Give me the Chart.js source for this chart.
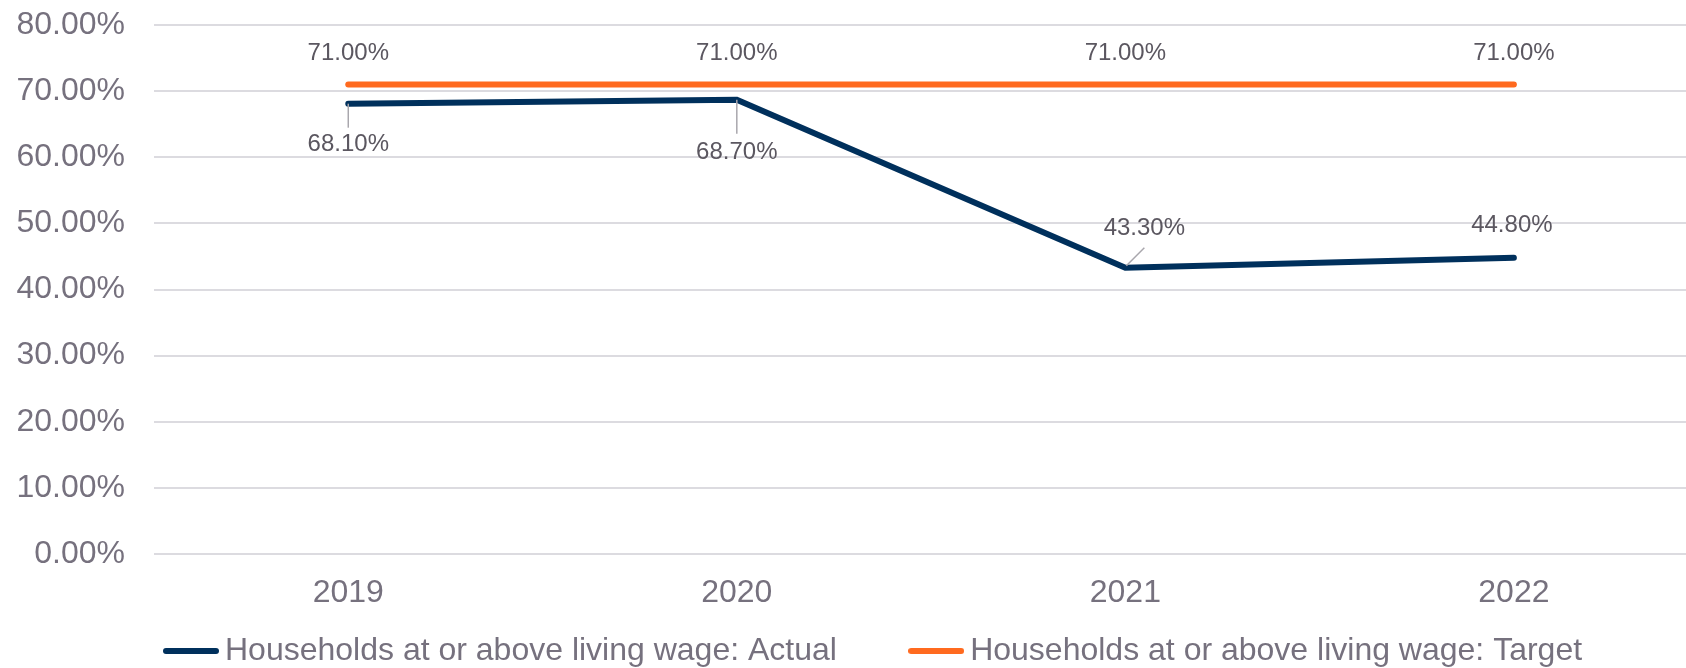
<!DOCTYPE html>
<html>
<head>
<meta charset="utf-8">
<title>Households at or above living wage</title>
<script src="https://cdn.jsdelivr.net/npm/chart.js@4.4.1/dist/chart.umd.min.js"></script>
<style>
  html, body { margin: 0; padding: 0; background: #ffffff; }
  #wrap { width: 1686px; height: 668px; position: relative; }
</style>
</head>
<body>
<div id="wrap"><canvas id="livingWageChart"></canvas></div>
<script>
// --- data ---
const years = [2019, 2020, 2021, 2022];
const actualValues = [68.1, 68.7, 43.3, 44.8];
const targetValues = [71.0, 71.0, 71.0, 71.0];
const yTickValues = [0, 10, 20, 30, 40, 50, 60, 70, 80];
const seriesNames = ['Households at or above living wage: Actual', 'Households at or above living wage: Target'];

const NAVY = '#00305c';
const ORANGE = '#ff6a1f';
const AXIS_TEXT = '#76717e';
const LABEL_TEXT = '#5b5760';

// label placement per point, in pixels from the point (dx, dy), optional leader line
const labelPlacement = [
    [
        { dx: 0, dy: 41, leader: [0, 0, 0, 24] },
        { dx: 0, dy: 53, leader: [0, 0, 0, 34] },
        { dx: 19, dy: -39, leader: [1, -2, 19, -20] },
        { dx: -2, dy: -32 }
    ],
    [
        { dx: 0, dy: -31 }, { dx: 0, dy: -31 }, { dx: 0, dy: -31 }, { dx: 0, dy: -31 }
    ]
];

// legend swatch: short thick line with round ends, wider than the legend box so the text sits close
function legendSwatch(color) {
    const c = document.createElement('canvas');
    c.width = 56;
    c.height = 8;
    const g = c.getContext('2d');
    g.strokeStyle = color;
    g.lineWidth = 6;
    g.lineCap = 'round';
    g.beginPath();
    g.moveTo(3, 4);
    g.lineTo(53, 4);
    g.stroke();
    return c;
}

// simple value label plugin (no datalabels plugin available)
const valueLabels = {
    id: 'valueLabels',
    afterDatasetsDraw(chart) {
        const ctx = chart.ctx;
        ctx.save();
        chart.data.datasets.forEach((ds, di) => {
            const meta = chart.getDatasetMeta(di);
            meta.data.forEach((pt, i) => {
                const place = labelPlacement[di][i];
                if (place.leader) {
                    const l = place.leader;
                    ctx.strokeStyle = '#a9a7ad';
                    ctx.lineWidth = 1.5;
                    ctx.beginPath();
                    ctx.moveTo(pt.x + l[0], pt.y + l[1]);
                    ctx.lineTo(pt.x + l[2], pt.y + l[3]);
                    ctx.stroke();
                }
                ctx.fillStyle = LABEL_TEXT;
                ctx.font = '24px "Liberation Sans", Arial, sans-serif';
                ctx.textAlign = 'center';
                ctx.textBaseline = 'middle';
                ctx.fillText(ds.data[i].y.toFixed(2) + '%', pt.x + place.dx, pt.y + place.dy);
            });
        });
        ctx.restore();
    }
};

document.addEventListener('DOMContentLoaded', () => {
    const ctx = document.getElementById('livingWageChart').getContext('2d');

    Chart.defaults.font.family = '"Liberation Sans", Arial, sans-serif';

    new Chart(ctx, {
        type: 'line',
        data: {
            datasets: [
                {
                    label: seriesNames[0],
                    data: years.map((yr, i) => ({ x: yr, y: actualValues[i] })),
                    borderColor: NAVY,
                    backgroundColor: NAVY,
                    borderWidth: 6,
                    borderCapStyle: 'round',
                    pointRadius: 0,
                    tension: 0
                },
                {
                    label: seriesNames[1],
                    data: years.map((yr, i) => ({ x: yr, y: targetValues[i] })),
                    borderColor: ORANGE,
                    backgroundColor: ORANGE,
                    borderWidth: 6,
                    borderCapStyle: 'round',
                    pointRadius: 0,
                    tension: 0
                }
            ]
        },
        options: {
            responsive: true,
            maintainAspectRatio: false,
            animation: false,
            layout: { padding: { top: 25, left: 0, right: 0, bottom: -9 } },
            scales: {
                x: {
                    type: 'linear',
                    min: 2018.5,
                    max: 2022.443,
                    grid: { display: false },
                    border: { display: false },
                    afterBuildTicks: axis => { axis.ticks = years.map(v => ({ value: v })); },
                    afterFit: axis => {
                        axis.height = 62;
                        axis.paddingLeft = 0;
                        axis.paddingRight = 0;
                    },
                    ticks: {
                        color: AXIS_TEXT,
                        font: { size: 32 },
                        padding: 12,
                        maxRotation: 0,
                        callback: v => String(v)
                    }
                },
                y: {
                    min: 0,
                    max: 80,
                    afterBuildTicks: axis => { axis.ticks = yTickValues.map(v => ({ value: v })); },
                    afterFit: axis => {
                        axis.width = 154;
                        axis.paddingTop = 0;
                        axis.paddingBottom = 0;
                    },
                    grid: { color: '#dcdbe0', lineWidth: 2, drawTicks: false },
                    border: { display: false },
                    ticks: {
                        color: AXIS_TEXT,
                        font: { size: 32 },
                        padding: 29,
                        callback: v => v.toFixed(2) + '%'
                    }
                }
            },
            plugins: {
                legend: {
                    position: 'bottom',
                    fullSize: false,
                    align: 'start',
                    labels: {
                        color: AXIS_TEXT,
                        font: { size: 32 },
                        padding: 19,
                        usePointStyle: true,
                        pointStyleWidth: 36,
                        // extra trailing room so the second entry sits where it does in the original
                        generateLabels: chart => Chart.defaults.plugins.legend.labels.generateLabels(chart).map((item, i) => {
                            if (i === 0) item.text = item.text + '       ';
                            item.pointStyle = legendSwatch(i === 0 ? NAVY : ORANGE);
                            return item;
                        })
                    }
                },
                tooltip: { enabled: false }
            }
        },
        plugins: [valueLabels]
    });
});
</script>
</body>
</html>
